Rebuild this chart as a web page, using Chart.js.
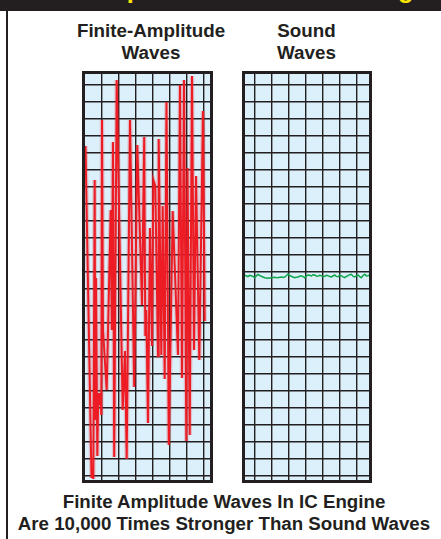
<!DOCTYPE html>
<html>
<head>
<meta charset="utf-8">
<script src="https://cdn.jsdelivr.net/npm/chart.js@4.4.0/dist/chart.umd.min.js"></script>
<style>
body{margin:0;width:441px;height:539px;background:#fff;position:relative;overflow:hidden;
  font-family:"Liberation Sans",Arial,Helvetica,sans-serif;font-weight:bold;color:#231f20}
#band{position:absolute;left:0;top:0;width:441px;height:11px;background:#231f20;overflow:hidden}
#band span{position:absolute;left:12px;top:-25.6px;line-height:30px;font-size:25.4px;color:#ffe600;white-space:nowrap}
#edge{position:absolute;left:6px;top:11px;width:2px;height:528px;background:#231f20}
.head{position:absolute;top:19.8px;text-align:center;font-size:18.8px;line-height:22px;white-space:nowrap}
.panel{position:absolute;top:71px;border:3px solid #231f20;background:#dbf0fb}
.panel canvas{display:block}
#foot{position:absolute;left:7px;width:434px;top:491px;text-align:center;font-size:18.7px;line-height:21.7px;white-space:nowrap}
</style>
</head>
<body>
<div id="band"><span>Finite Amplitude Waves In IC Engine</span></div>
<div id="edge"></div>
<div class="head" style="left:51px;width:200px">Finite-Amplitude<br>Waves</div>
<div class="head" style="left:246px;width:121px">Sound<br>Waves</div>
<div class="panel" style="left:82px"><canvas id="finite" width="125" height="406"></canvas></div>
<div class="panel" style="left:242px"><canvas id="sound" width="124" height="406"></canvas></div>
<div id="foot">Finite Amplitude Waves In IC Engine<br>Are 10,000 Times Stronger Than Sound Waves</div>

<script>
// finite-amplitude trace (time, pressure)
var finiteT = [0.5, 6.5, 7.5, 8.3, 9.7, 10.3, 11, 12.3, 13.3, 14.3, 15, 16.3, 17, 18, 21.7,
  25.7, 26.8, 28, 29.2, 31.7, 37.7, 40, 41.7, 45, 49.2, 52.3, 57, 59.2, 60.3, 61.3, 63,
  65, 67, 68.3, 70.3, 73, 73.7, 76.3, 77.7, 79.7, 81.5, 83.8, 87.7, 93, 95, 97, 99,
  101.3, 102.5, 104.7, 107, 109, 111, 114.3, 118, 119.7];
var finiteP = [131, -201, -191, -202, 97, -143, -1, -179, -116, -128, -116, -138, 157, -53, -113,
  67, -53, 135, -180, 197, -133, -74, -182, 157, -110, 132, -28, 140, -59, -33, -146,
  49, -69, 97, 91, -79, 138, -78, 71, -102, 175, -168, 66, -78, 192, -101, 197,
  -164, 109, -158, 201, -73, 101, -83, 166, -44];

// sound wave trace (time, pressure)
var soundT = [0, 1.5, 3, 4.7, 6.3, 8, 9.7, 11.3, 13, 14.7, 16.3, 18, 19.7, 21.3, 23, 24.7,
  26.3, 28, 29.7, 31.3, 33, 34.7, 36.3, 38, 39.7, 41.3, 43, 44.7, 46.3, 48, 49.7, 51.3,
  53, 54.7, 56.3, 58, 59.7, 61.3, 63, 64.7, 66.3, 68, 69.7, 71.3, 73, 74.7, 76.3, 78,
  79.7, 81.3, 83, 84.7, 86.3, 88, 89.7, 91.3, 93, 94.7, 96.3, 98, 99.7, 101.3, 103,
  104.7, 106.3, 108, 109.7, 111.3, 113, 114.7, 116.3, 118, 119.7, 121.3, 123, 124];
var soundP = [2, 1, 0.3, 1.7, 1.3, 0.5, -0.7, 1, 2.7, 1.5, 0.7, 0, -0.7, -1, -1.3, -1,
  -0.7, -0.5, -0.3, -0.6, -0.7, -0.3, 0, -0.4, 0, 1.2, 3, 1.5, 0.7, 0, -0.7, -0.2,
  0, 0.8, 1.3, 0.3, -0.7, 0.8, 2, 1.7, 1, 2.3, 2, 1, 0.7, 1.8, 1.3, 0.2,
  0.7, 1.8, 1.3, 0.4, 0, 1, 2, 0.6, 0.3, 1.6, 1.3, 0.2, -0.7, 0.5, 1.3,
  2.3, 2.7, 0.8, 0, 1.2, 2, 0.4, -0.7, 1.5, 2.7, 1.1, 1.3, 2];

// grid line positions (axis units)
var finiteGridT = [16.5, 33.5, 50.5, 67.5, 84.5, 101.5, 118.5];
var soundGridT = [9.5, 26.5, 43.5, 60.5, 77.5, 94.5, 111.5];
var gridP = [];
for (var k = 0; k < 24; k++) gridP.push(192 - 17 * k);

function drawPanel(id, ts, ps, color, width, halo, tMax, gridT) {
	var pts = ts.map(function(t, i){ return {x: t, y: ps[i]}; });
	var sets = [];
	if (halo) {
		sets.push({data: pts, borderColor: halo, borderWidth: width + 2.5, pointRadius: 0, tension: 0, fill: false});
	}
	sets.push({data: pts, borderColor: color, borderWidth: width, pointRadius: 0, tension: 0, fill: false});

	var grid = {color: '#231f20', lineWidth: 1.4, drawTicks: false};
	return new Chart(document.getElementById(id), {
		type: 'line',
		data: {datasets: sets},
		options: {
			responsive: false,
			animation: false,
			events: [],
			layout: {padding: 0},
			plugins: {legend: {display: false}, tooltip: {enabled: false}},
			scales: {
				x: {
					type: 'linear', min: 0, max: tMax,
					afterBuildTicks: function(s){ s.ticks = gridT.map(function(v){ return {value: v}; }); },
					ticks: {display: false}, border: {display: false}, grid: grid
				},
				y: {
					type: 'linear', min: -203, max: 203,
					afterBuildTicks: function(s){ s.ticks = gridP.map(function(v){ return {value: v}; }); },
					ticks: {display: false}, border: {display: false}, grid: grid
				}
			}
		}
	});
}

drawPanel('finite', finiteT, finiteP, '#ed1c24', 2, 'rgba(237,28,36,0.22)', 125, finiteGridT);
drawPanel('sound', soundT, soundP, '#10a54a', 1.5, null, 124, soundGridT);
</script>
</body>
</html>
